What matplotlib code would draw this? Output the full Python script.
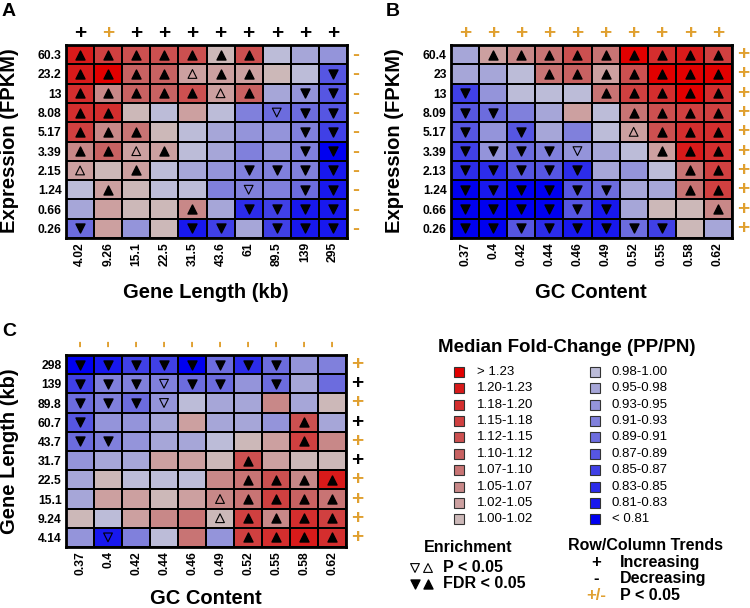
import matplotlib
matplotlib.use('Agg')
import matplotlib.pyplot as plt
from matplotlib.colors import ListedColormap, BoundaryNorm
from matplotlib.patches import Rectangle
import numpy as np

plt.rcParams['font.family'] = ['Liberation Sans', 'DejaVu Sans']

ORANGE = '#e0a030'

# fold-change bins (low -> high)
bounds = [0.0, 0.81, 0.83, 0.85, 0.87, 0.89, 0.91, 0.93, 0.95, 0.98, 1.00,
          1.02, 1.05, 1.07, 1.10, 1.12, 1.15, 1.18, 1.20, 1.23, 9.0]
bin_labels = ['< 0.81', '0.81-0.83', '0.83-0.85', '0.85-0.87', '0.87-0.89',
              '0.89-0.91', '0.91-0.93', '0.93-0.95', '0.95-0.98', '0.98-1.00',
              '1.00-1.02', '1.02-1.05', '1.05-1.07', '1.07-1.10', '1.10-1.12',
              '1.12-1.15', '1.15-1.18', '1.18-1.20', '1.20-1.23', '> 1.23']
bin_colors = ['#0000f0', '#1818ee', '#2c2cea', '#4040e6', '#5656e2',
              '#6c6cde', '#8080dc', '#9494da', '#a6a6d8', '#bcbcd8',
              '#ccb8b8', '#cca0a0', '#c88888', '#c87474', '#c86262',
              '#cc5050', '#d04040', '#d42e2e', '#d81a1a', '#e20000']
cmap = ListedColormap(bin_colors)
norm = BoundaryNorm(bounds, cmap.N)

# ---- panel A : expression x gene length
a_rows = ['60.3', '23.2', '13', '8.08', '5.17', '3.39', '2.15', '1.24', '0.66', '0.26']
a_cols = ['4.02', '9.26', '15.1', '22.5', '31.5', '43.6', '61', '89.5', '139', '295']
a_fc = [[1.21, 1.16, 1.13, 1.13, 1.13, 1.01, 1.13, 0.99, 0.96, 0.94],
        [1.21, 1.25, 1.11, 1.11, 1.03, 1.04, 1.03, 1.01, 0.99, 0.88],
        [1.19, 1.06, 1.11, 1.11, 1.13, 1.03, 1.11, 0.97, 0.94, 0.88],
        [1.19, 1.19, 1.01, 0.99, 1.04, 0.99, 0.92, 0.90, 0.90, 0.88],
        [1.17, 1.06, 1.08, 1.01, 0.99, 0.96, 0.94, 0.94, 0.92, 0.86],
        [1.06, 1.11, 1.03, 1.03, 0.99, 0.96, 0.92, 0.94, 0.92, 0.80],
        [1.03, 1.01, 1.04, 0.99, 0.97, 0.94, 0.92, 0.92, 0.92, 0.82],
        [0.99, 1.04, 1.01, 0.99, 0.98, 0.92, 0.92, 0.92, 0.90, 0.82],
        [0.96, 1.03, 1.01, 1.01, 1.06, 0.96, 0.84, 0.86, 0.82, 0.82],
        [0.90, 1.03, 0.94, 1.01, 0.82, 0.86, 0.96, 0.86, 0.82, 0.82]]
# U/D filled up/down (FDR), u/d open (P), . none
a_sig = ['UUUUUUU...',
         'UUUUuUU..D',
         'UUUUUuU.DD',
         'UU.....dDD',
         'UUU.....DD',
         'UUuU....DD',
         'u.U...DDDD',
         '.U....d.DD',
         '....U.DDDD',
         'D...DD.DDD']
a_top = ['+'] * 10
a_top_p = [0, 1, 0, 0, 0, 0, 0, 0, 0, 0]
a_right = ['-'] * 10
a_right_p = [1] * 10

# ---- panel B : expression x GC content
b_rows = ['60.4', '23', '13', '8.09', '5.17', '3.39', '2.13', '1.24', '0.66', '0.26']
gc_cols = ['0.37', '0.4', '0.42', '0.44', '0.46', '0.49', '0.52', '0.55', '0.58', '0.62']
b_fc = [[0.96, 1.03, 1.06, 1.08, 1.13, 1.08, 1.25, 1.19, 1.21, 1.16],
        [0.96, 0.96, 0.99, 1.08, 1.11, 1.04, 1.13, 1.25, 1.25, 1.25],
        [0.86, 0.94, 0.99, 0.99, 0.99, 1.08, 1.16, 1.19, 1.25, 1.19],
        [0.88, 0.90, 0.92, 0.96, 1.03, 0.99, 1.08, 1.13, 1.16, 1.16],
        [0.88, 0.94, 0.88, 0.96, 0.92, 0.99, 1.03, 1.13, 1.19, 1.19],
        [0.86, 0.94, 0.90, 0.92, 0.94, 0.97, 0.99, 1.03, 1.21, 1.19],
        [0.84, 0.84, 0.88, 0.88, 0.84, 0.96, 0.94, 0.99, 1.08, 1.16],
        [0.80, 0.82, 0.80, 0.80, 0.88, 0.90, 0.96, 0.96, 1.08, 1.16],
        [0.80, 0.80, 0.80, 0.80, 0.88, 0.82, 0.96, 1.01, 1.01, 1.06],
        [0.80, 0.80, 0.88, 0.84, 0.82, 0.82, 0.90, 0.86, 1.01, 0.96]]
b_sig = ['.UUUUUUUUU',
         '...UUUUUUU',
         'D....UUUUU',
         'DD....UUUU',
         'D.D...uUUU',
         'DDDDd..UUU',
         'DDDDD...UU',
         'DDDDDD..UU',
         'DDDDDD...U',
         'DDDDDDDD..']
b_top = ['+'] * 10
b_top_p = [1] * 10
b_right = ['+'] * 10
b_right_p = [1] * 10

# ---- panel C : gene length x GC content
c_rows = ['298', '139', '89.8', '60.7', '43.7', '31.7', '22.5', '15.1', '9.24', '4.14']
c_fc = [[0.80, 0.82, 0.86, 0.86, 0.80, 0.90, 0.84, 0.90, 0.94, 0.92],
        [0.86, 0.92, 0.92, 0.92, 0.90, 0.90, 0.94, 0.90, 0.96, 0.90],
        [0.90, 0.92, 0.90, 0.94, 0.99, 0.96, 0.96, 1.06, 0.96, 1.01],
        [0.88, 0.94, 0.94, 0.97, 1.04, 0.97, 0.96, 0.94, 1.13, 0.96],
        [0.90, 0.92, 0.94, 0.97, 0.97, 0.99, 1.01, 1.04, 1.17, 1.06],
        [0.93, 0.96, 0.96, 1.04, 1.04, 1.01, 1.13, 1.04, 1.01, 1.01],
        [0.96, 1.01, 0.99, 0.99, 0.99, 1.06, 1.08, 1.13, 1.06, 1.21],
        [0.96, 1.03, 1.03, 1.01, 1.03, 1.06, 1.08, 1.16, 1.11, 1.08],
        [1.01, 0.99, 1.03, 1.06, 1.08, 1.01, 1.17, 1.06, 1.19, 1.16],
        [0.94, 0.82, 0.92, 0.99, 1.08, 0.94, 1.16, 1.19, 1.22, 1.19]]
c_sig = ['DDDDDDDD..',
         'DDDdDD.D..',
         'DDDd......',
         'D.......U.',
         'DD......U.',
         '......U...',
         '......UUUU',
         '.....uUUUU',
         '.....uUUUU',
         '.d....UUUU']
c_top = ['-'] * 10
c_top_p = [1] * 10
c_right = ['+'] * 10
c_right_p = [1, 0, 1, 0, 1, 0, 1, 1, 1, 1]

W, H = 750, 608
fig = plt.figure(figsize=(W / 100, H / 100), dpi=100)


def px_axes(x0, y0, x1, y1):
    return fig.add_axes([x0 / W, 1 - y1 / H, (x1 - x0) / W, (y1 - y0) / H])


def draw_panel(ax, fc, sig, rows, cols, top, top_p, right, right_p, right_off, top_rot):
    fc = np.array(fc)
    ax.pcolormesh(np.arange(11), np.arange(11), fc, cmap=cmap, norm=norm,
                  edgecolors='black', linewidth=1.4)
    ax.set_xlim(0, 10)
    ax.set_ylim(10, 0)
    for code, mk, filled in [('U', '^', True), ('D', 'v', True), ('u', '^', False), ('d', 'v', False)]:
        xs, ys = [], []
        for i, r in enumerate(sig):
            for j, c in enumerate(r):
                if c == code:
                    xs.append(j + 0.5)
                    ys.append(i + 0.5)
        if filled:
            ax.scatter(xs, ys, marker=mk, s=42, c='black', zorder=5)
        else:
            ax.scatter(xs, ys, marker=mk, s=40, facecolors='none', edgecolors='black',
                       linewidths=0.8, zorder=5)
    ax.set_yticks(np.arange(10) + 0.5, rows, fontweight='bold', fontsize=8.7)
    ax.set_xticks(np.arange(10) + 0.5, cols, fontweight='bold', fontsize=8.7, rotation=90)
    ax.tick_params(length=0, pad=3)
    for s in ax.spines.values():
        s.set_linewidth(2)
    for j in range(10):
        ax.text(j + 0.5, -0.62, top[j], ha='center', va='center', fontsize=15 if top[j] == '+' else 15,
                fontweight='bold', color=ORANGE if top_p[j] else 'black',
                rotation=top_rot, clip_on=False)
    for i in range(10):
        ax.text(10 + right_off, i + 0.5, right[i], ha='center', va='center',
                fontsize=15, fontweight='bold',
                color=ORANGE if right_p[i] else 'black', clip_on=False)


ax_a = px_axes(66, 45, 347, 238)
draw_panel(ax_a, a_fc, a_sig, a_rows, a_cols, a_top, a_top_p, a_right, a_right_p, 0.32, 0)
ax_b = px_axes(451, 45, 732, 238)
draw_panel(ax_b, b_fc, b_sig, b_rows, gc_cols, b_top, b_top_p, b_right, b_right_p, 0.4, 0)
ax_c = px_axes(66, 355, 346, 547)
draw_panel(ax_c, c_fc, c_sig, c_rows, gc_cols, c_top, c_top_p, c_right, c_right_p, 0.4, 90)

# overlay in pixel coordinates for labels and legend
ov = fig.add_axes([0, 0, 1, 1], zorder=-1)
ov.set_xlim(0, W)
ov.set_ylim(H, 0)
ov.axis('off')

lab = dict(fontsize=14.5, fontweight='bold', ha='center', va='center')
ov.text(10, 141, 'Expression (FPKM)', rotation=90, **lab)
ov.text(395, 141, 'Expression (FPKM)', rotation=90, **lab)
ov.text(10, 451, 'Gene Length (kb)', rotation=90, **lab)
ov.text(206, 292, 'Gene Length (kb)', **lab)
ov.text(591, 292, 'GC Content', **lab)
ov.text(206, 599, 'GC Content', **lab)
for x, y, t in [(9, 12, 'A'), (393, 12, 'B'), (9, 332, 'C')]:
    ov.text(x, y, t, fontsize=14, fontweight='bold', ha='center', va='center')

# fold-change legend
ov.text(567, 347, 'Median Fold-Change (PP/PN)', fontsize=13.5, fontweight='bold',
        ha='center', va='center')
step = 16.37
for k in range(10):
    y = 372 + k * step
    red = 19 - k
    blue = 9 - k
    for xs, xt, idx in [(459, 477, red), (595, 612, blue)]:
        ov.add_patch(Rectangle((xs - 5, y - 5), 10, 10, facecolor=bin_colors[idx],
                               edgecolor='#333333', linewidth=0.8))
        ov.text(xt, y, bin_labels[idx], fontsize=9.5, ha='left', va='center')

# enrichment legend
ov.text(468, 548, 'Enrichment', fontsize=11.5, fontweight='bold', ha='center', va='center')
ov.scatter([415], [568], marker='v', s=40, facecolors='none', edgecolors='black', linewidths=0.8)
ov.scatter([428], [568], marker='^', s=40, facecolors='none', edgecolors='black', linewidths=0.8)
ov.scatter([415], [584], marker='v', s=42, c='black')
ov.scatter([428], [584], marker='^', s=42, c='black')
ov.text(443, 568, 'P < 0.05', fontsize=11.5, fontweight='bold', ha='left', va='center')
ov.text(443, 584, 'FDR < 0.05', fontsize=11.5, fontweight='bold', ha='left', va='center')

# trend legend
ov.text(646, 546, 'Row/Column Trends', fontsize=11.5, fontweight='bold', ha='center', va='center')
ov.text(596, 563, '+', fontsize=12, fontweight='bold', ha='center', va='center')
ov.text(596, 579, '-', fontsize=12, fontweight='bold', ha='center', va='center')
ov.text(596, 595, '+/-', fontsize=12, fontweight='bold', ha='center', va='center', color=ORANGE)
ov.text(620, 563, 'Increasing', fontsize=11.5, fontweight='bold', ha='left', va='center')
ov.text(620, 579, 'Decreasing', fontsize=11.5, fontweight='bold', ha='left', va='center')
ov.text(620, 595, 'P < 0.05', fontsize=11.5, fontweight='bold', ha='left', va='center')

fig.savefig('out.png', dpi=100)
